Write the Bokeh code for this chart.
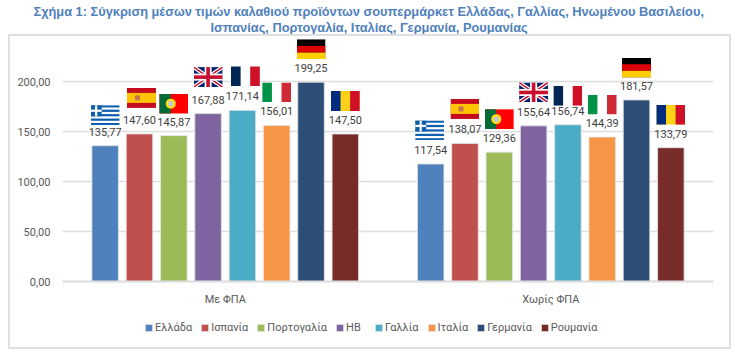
import base64
from bokeh.embed import file_html
from bokeh.resources import INLINE
from bokeh.plotting import figure
from bokeh.models import (ColumnDataSource, FactorRange, Range1d, FixedTicker, Title, Legend, LegendItem)
from bokeh.transform import dodge

title_lines = ["Σχήμα 1: Σύγκριση μέσων τιμών καλαθιού προϊόντων σουπερμάρκετ Ελλάδας, Γαλλίας, Ηνωμένου Βασιλείου,",
               "Ισπανίας, Πορτογαλία, Ιταλίας, Γερμανία, Ρουμανίας"]
categories = ["Με ΦΠΑ", "Χωρίς ΦΠΑ"]
countries = ["Ελλάδα", "Ισπανία", "Πορτογαλία", "ΗΒ", "Γαλλία", "Ιταλία", "Γερμανία", "Ρουμανία"]
with_vat = [135.77, 147.60, 145.87, 167.88, 171.14, 156.01, 199.25, 147.50]
without_vat = [117.54, 138.07, 129.36, 155.64, 156.74, 144.39, 181.57, 133.79]
colors = ["#4F81BD", "#C0504D", "#9BBB59", "#8064A2", "#4BACC6", "#F79646", "#2C4D75", "#772C2A"]
y_ticks = [0, 50, 100, 150, 200]
y_labels = ["0,00", "50,00", "100,00", "150,00", "200,00"]

# flag artwork
def svg(body, w=29, h=20):
    s = f'<svg xmlns="http://www.w3.org/2000/svg" width="{w}" height="{h}" viewBox="0 0 {w} {h}">{body}</svg>'
    return "data:image/svg+xml;base64," + base64.b64encode(s.encode()).decode()

def r(x, y, w, h, c):
    return f'<rect x="{x}" y="{y}" width="{w}" height="{h}" fill="{c}"/>'

greek = r(0, 0, 29, 20, "#fff") + "".join(r(0, i * 4.44, 29, 2.22, "#0D5EAF") for i in range(5))
greek += r(0, 0, 11, 11, "#0D5EAF") + r(4.4, 0, 2.2, 11, "#fff") + r(0, 4.4, 11, 2.2, "#fff")
spain = r(0, 0, 29, 20, "#C60B1E") + r(0, 5, 29, 10, "#FFC400") + r(8, 7.5, 5, 5, "#C8734A")
portugal = (r(0, 0, 29, 20, "#FF0000") + r(0, 0, 11.5, 20, "#046A38")
            + '<circle cx="11.5" cy="10" r="5" fill="#FFE000"/><circle cx="11.5" cy="10" r="3" fill="#C8C8C8"/>')
uk = (r(0, 0, 29, 20, "#012169")
      + '<path d="M0 0L29 20M29 0L0 20" stroke="#fff" stroke-width="4"/>'
      + '<path d="M0 0L29 20M29 0L0 20" stroke="#C8102E" stroke-width="1.5"/>'
      + r(11, 0, 7, 20, "#fff") + r(0, 6.5, 29, 7, "#fff")
      + r(12.7, 0, 3.6, 20, "#C8102E") + r(0, 8.2, 29, 3.6, "#C8102E"))
france = r(0, 0, 29, 20, "#fff") + r(0, 0, 9.7, 20, "#002654") + r(19.3, 0, 9.7, 20, "#CE1126")
italy = r(0, 0, 29, 20, "#fff") + r(0, 0, 9.7, 20, "#009246") + r(19.3, 0, 9.7, 20, "#CE2B37")
germany = r(0, 0, 29, 20, "#000") + r(0, 6.67, 29, 6.67, "#DD0000") + r(0, 13.33, 29, 6.67, "#FFCE00")
romania = r(0, 0, 29, 20, "#FCD116") + r(0, 0, 9.7, 20, "#002B7F") + r(19.3, 0, 9.7, 20, "#CE1126")
flags = [svg(b) for b in (greek, spain, portugal, uk, france, italy, germany, romania)]

# layout of the flags above the bars (pixels; one data unit is one pixel on this chart)
flag_lift = [[30.5, 36, 32, 36.5, 34, 33, 33, 33], [33.5, 34.5, 33, 33.4, 29, 32.6, 32.4, 33]]
flag_shift = [[0, 2, 0, 0, 3, 0, 0, 0], [-1, 0, 0, 0, 0, 0, 0, 0]]

W, H = 731, 349
FONT = "Roboto"
TXT = "#595959"
frame_css = (":host::after{content:'';position:absolute;left:8px;top:34px;width:719px;height:311px;"
             "border:2px solid #E0E0E0;pointer-events:none;}")
p = figure(width=W, height=H, output_backend="svg", toolbar_location=None,
           x_range=FactorRange(factors=categories, factor_padding=0, range_padding=0),
           y_range=Range1d(-66, 247), stylesheets=[frame_css],
           min_border_left=62, min_border_right=18, min_border_top=34, min_border_bottom=2,
           outline_line_color=None, background_fill_color="#FFFFFF", border_fill_color="#FFFFFF")

p.xgrid.visible = False
p.ygrid.grid_line_color = "#DEDEDE"
p.ygrid.grid_line_width = 1.6
p.ygrid.ticker = FixedTicker(ticks=y_ticks)

p.yaxis.ticker = FixedTicker(ticks=y_ticks)
p.yaxis.major_label_overrides = {t: l for t, l in zip(y_ticks, y_labels)}
p.yaxis.axis_line_color = None
p.yaxis.major_tick_line_color = None
p.yaxis.minor_tick_line_color = None
p.yaxis.major_label_standoff = 6
p.yaxis.major_label_text_font = FONT
p.yaxis.major_label_text_font_size = "11px"
p.yaxis.major_label_text_color = TXT

p.xaxis.fixed_location = 0
p.xaxis.axis_line_color = "#DEDEDE"
p.xaxis.axis_line_width = 2
p.xaxis.major_tick_line_color = None
p.xaxis.minor_tick_line_color = None
p.xaxis.major_label_standoff = 5
p.xaxis.major_label_text_font = FONT
p.xaxis.major_label_text_font_size = "11px"
p.xaxis.major_label_text_color = TXT

PITCH = 0.1054
BAR = 0.0815
items = []
for i, name in enumerate(countries):
    off = (i - 3.5) * PITCH
    src = ColumnDataSource(dict(cat=categories, v=[with_vat[i], without_vat[i]],
                                t=[f"{with_vat[i]:.2f}".replace(".", ","), f"{without_vat[i]:.2f}".replace(".", ",")]))
    bar = p.vbar(x=dodge("cat", off, range=p.x_range), top="v", width=BAR, bottom=0, source=src,
                 fill_color=colors[i], line_color="#E4E4E4", line_width=1, line_alpha=0.8)
    items.append(LegendItem(label=name, renderers=[bar]))
    p.text(x=dodge("cat", off, range=p.x_range), y="v", text="t", source=src, y_offset=-14,
           text_align="center", text_baseline="middle", text_font={"value": FONT},
           text_font_size="11px", text_color="#404040")
    for g, (cat, vals) in enumerate(zip(categories, (with_vat, without_vat))):
        fs = ColumnDataSource(dict(cat=[cat], y=[vals[i] + flag_lift[g][i]], url=[flags[i]]))
        p.image_url(url="url", x=dodge("cat", off + flag_shift[g][i] / 325.5, range=p.x_range), y="y",
                    w=29, h=20, w_units="screen", h_units="screen", anchor="center", source=fs)

legend = Legend(items=items, orientation="horizontal", location=(82, 13),
                glyph_width=9, glyph_height=9, label_standoff=2, spacing=8, padding=0, margin=0,
                background_fill_alpha=0, border_line_color=None,
                label_text_font=FONT, label_text_font_size="11px", label_text_color=TXT,
                label_height=12)
p.add_layout(legend, "center")

title_offsets = [-29, 148]
title_standoffs = [-3, 0]
for line, off, so in reversed(list(zip(title_lines, title_offsets, title_standoffs))):
    p.add_layout(Title(text=line, align="left", offset=off, standoff=so, text_line_height=1.0,
                       text_font="Liberation Sans", text_font_style="bold",
                       text_font_size="12.8px", text_color="#4F81BD"), "above")

open("out.html", "w").write(file_html(p, INLINE))
